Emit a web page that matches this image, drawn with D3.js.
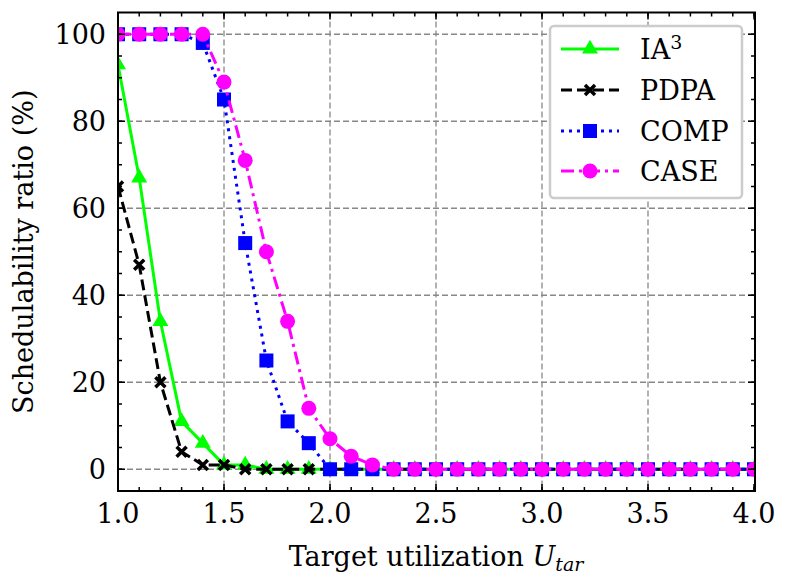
<!DOCTYPE html>
<html>
<head>
<meta charset="utf-8">
<script src="https://cdn.jsdelivr.net/npm/d3@7"></script>
<style>
  body { margin: 0; background: #fff; }
  text { font-family: "DejaVu Serif", serif; fill: #000; }
</style>
</head>
<body>
<div id="chart"></div>
<script>
var width = 790,
    height = 588;

// data
var utilization = d3.range(31).map(function(i){ return +(1 + i * 0.1).toFixed(1) });
var ia3  = [93, 67, 34, 11, 6, 1, 1, 0, 0, 0, 0, 0, 0, 0, 0, 0, 0, 0, 0, 0, 0, 0, 0, 0, 0, 0, 0, 0, 0, 0, 0];
var pdpa = [65, 47, 20, 4, 1, 1, 0, 0, 0, 0, 0, 0, 0, 0, 0, 0, 0, 0, 0, 0, 0, 0, 0, 0, 0, 0, 0, 0, 0, 0, 0];
var comp = [100, 100, 100, 100, 98, 85, 52, 25, 11, 6, 0, 0, 0, 0, 0, 0, 0, 0, 0, 0, 0, 0, 0, 0, 0, 0, 0, 0, 0, 0, 0];
var cse  = [100, 100, 100, 100, 100, 89, 71, 50, 34, 14, 7, 3, 1, 0, 0, 0, 0, 0, 0, 0, 0, 0, 0, 0, 0, 0, 0, 0, 0, 0, 0];
var seriesNames = ["IA3", "PDPA", "COMP", "CASE"];
var xTicks = [1.0, 1.5, 2.0, 2.5, 3.0, 3.5, 4.0];
var yTicks = [0, 20, 40, 60, 80, 100];

var pLeft = 118, pRight = 755, pTop = 12.5, pBottom = 491;

var x = d3.scaleLinear().domain([1, 4]).range([pLeft, 754]);
var y = d3.scaleLinear().domain([-5, 105]).range([pBottom, pTop]);

var svg = d3.select("#chart").append("svg")
.attr("width", width)
.attr("height", height);

svg.append("defs").append("clipPath").attr("id", "plotclip")
.append("rect")
.attr("x", pLeft).attr("y", pTop)
.attr("width", pRight - pLeft).attr("height", pBottom - pTop);

//grid
var grid = svg.append("g").attr("class", "grid")
grid.selectAll("line.gx").data(xTicks.slice(1, -1)).enter().append("line")
.attr("x1", function(d){ return x(d) }).attr("x2", function(d){ return x(d) })
.attr("y1", pTop).attr("y2", pBottom)
grid.selectAll("line.gy").data(yTicks).enter().append("line")
.attr("x1", pLeft).attr("x2", pRight)
.attr("y1", function(d){ return y(d) }).attr("y2", function(d){ return y(d) })
grid.selectAll("line")
.style("stroke", "#888")
.style("stroke-width", 1.3)
.style("stroke-dasharray", "6,3")

//series
var series = [
  {name: seriesNames[0], values: ia3,  color: "#00ff00", dash: null,        marker: "triangle"},
  {name: seriesNames[1], values: pdpa, color: "#000000", dash: "11,5",      marker: "x"},
  {name: seriesNames[2], values: comp, color: "#0000ff", dash: "3,5",       marker: "square"},
  {name: seriesNames[3], values: cse,  color: "#ff00ff", dash: "13,5,3,5",  marker: "circle"}
]

var line = d3.line()
.x(function(d, i){ return x(utilization[i]) })
.y(function(d){ return y(d) })

function drawMarker(sel, s){
  if (s.marker == "triangle"){
    sel.append("path").attr("d", d3.symbol(d3.symbolTriangle, 110)).style("fill", s.color)
  } else if (s.marker == "square"){
    sel.append("rect").attr("x", -7).attr("y", -7).attr("width", 14).attr("height", 14).style("fill", s.color)
  } else if (s.marker == "circle"){
    sel.append("circle").attr("r", 7.5).style("fill", s.color)
  } else {
    sel.append("path").attr("d", "M-5,-5L5,5M-5,5L5,-5")
    .style("stroke", s.color).style("stroke-width", 3.5).style("fill", "none")
  }
}

var plot = svg.append("g").attr("clip-path", "url(#plotclip)")

series.forEach(function(s){
  var g = plot.append("g").attr("class", "series")
  g.append("path")
  .datum(s.values)
  .attr("d", line)
  .style("fill", "none")
  .style("stroke", s.color)
  .style("stroke-width", 3)
  .style("stroke-dasharray", s.dash)
  g.selectAll("g.pt").data(s.values).enter().append("g")
  .attr("class", "pt")
  .attr("transform", function(d, i){ return "translate(" + x(utilization[i]) + "," + y(d) + ")" })
  .each(function(){ drawMarker(d3.select(this), s) })
})

//frame + inward ticks
var axes = svg.append("g")
var xMinor = d3.range(1, 4.001, 0.1).map(function(v){ return +v.toFixed(1) })
var yMinor = d3.range(0, 101, 5)

function ticks(vals, scale, horiz, len){
  vals.forEach(function(v){
    var p = scale(v)
    if (horiz){
      axes.append("line").attr("x1", p).attr("x2", p).attr("y1", pBottom).attr("y2", pBottom - len)
      axes.append("line").attr("x1", p).attr("x2", p).attr("y1", pTop).attr("y2", pTop + len)
    } else {
      axes.append("line").attr("y1", p).attr("y2", p).attr("x1", pLeft).attr("x2", pLeft + len)
      axes.append("line").attr("y1", p).attr("y2", p).attr("x1", pRight).attr("x2", pRight - len)
    }
  })
}
ticks(xMinor, x, true, 4)
ticks(xTicks, x, true, 7)
ticks(yMinor, y, false, 4)
ticks(yTicks, y, false, 7)
axes.selectAll("line").style("stroke", "#000").style("stroke-width", 1.5)

axes.append("rect")
.attr("x", pLeft).attr("y", pTop)
.attr("width", pRight - pLeft).attr("height", pBottom - pTop)
.style("fill", "none").style("stroke", "#000").style("stroke-width", 2)

//tick labels
svg.selectAll("text.xt").data(xTicks).enter().append("text")
.attr("x", function(d){ return x(d) })
.attr("y", 523)
.attr("text-anchor", "middle")
.style("font-size", "27px")
.text(function(d){ return d.toFixed(1) })

svg.selectAll("text.yt").data(yTicks).enter().append("text")
.attr("x", 106)
.attr("y", function(d){ return y(d) + 9.5 })
.attr("text-anchor", "end")
.style("font-size", "27px")
.text(function(d){ return d })

//axis titles
var xl = svg.append("text")
.attr("x", 436).attr("y", 566)
.attr("text-anchor", "middle")
.style("font-size", "27px")
xl.append("tspan").text("Target utilization ")
xl.append("tspan").style("font-style", "italic").text("U")
xl.append("tspan").style("font-style", "italic").style("font-size", "19px").attr("dy", 5).text("tar")

svg.append("text")
.attr("transform", "translate(33," + y(50) + ") rotate(-90)")
.attr("text-anchor", "middle")
.style("font-size", "27px")
.text("Schedulability ratio (%)")

//legend
var legend = svg.append("g")
legend.append("rect")
.attr("x", 550).attr("y", 26)
.attr("width", 192).attr("height", 172)
.attr("rx", 4)
.style("fill", "#fff").style("stroke", "#cccccc").style("stroke-width", 2.5)

var legY = [49, 90, 131, 171]
series.forEach(function(s, i){
  var r = legend.append("g").attr("transform", "translate(0," + legY[i] + ")")
  r.append("line")
  .attr("x1", 561).attr("x2", 619)
  .style("stroke", s.color).style("stroke-width", 3)
  .style("stroke-dasharray", s.dash)
  r.append("g").attr("transform", "translate(590,0)").each(function(){ drawMarker(d3.select(this), s) })
  var t = r.append("text").attr("x", 640).attr("y", 10).style("font-size", "27px")
  if (i == 0){
    t.append("tspan").text("IA")
    t.append("tspan").attr("dy", -10).style("font-size", "19px").text("3")
  } else {
    t.text(s.name)
  }
})
</script>
</body>
</html>
